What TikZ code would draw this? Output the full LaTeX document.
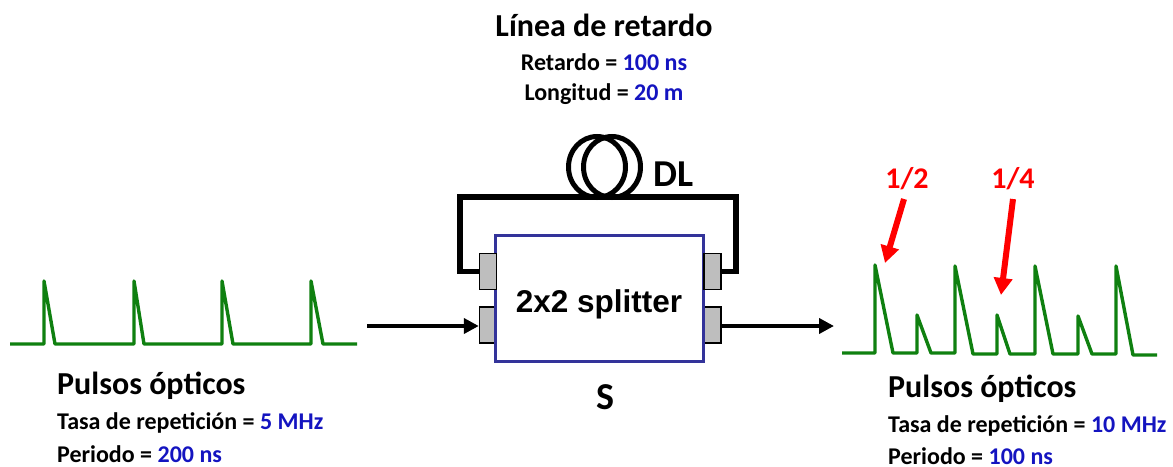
\documentclass[tikz,border=0pt]{standalone}
\usepackage{fontspec}
\setmainfont{Carlito}
\newfontfamily\arialf{Liberation Sans}
\usetikzlibrary{arrows.meta}
\definecolor{pulsegreen}{HTML}{0F8010}
\definecolor{valblue}{HTML}{1414C0}
\definecolor{boxblue}{HTML}{33339A}
\definecolor{portgrey}{HTML}{BEBEBE}
\newcommand{\val}[1]{\textcolor{valblue}{#1}}
\tikzset{
  x=1pt,y=-1pt,
  lbl/.style={inner sep=0pt,font=\bfseries\fontsize{24}{28}\selectfont},
  ttl/.style={inner sep=0pt,font=\bfseries\fontsize{32}{36}\selectfont},
  big/.style={inner sep=0pt,font=\bfseries\fontsize{38}{42}\selectfont},
  pulse/.style={draw=pulsegreen,line width=3.4pt,line join=round},
  port/.style={draw=black,fill=portgrey,line width=1.4pt,minimum width=17pt,inner sep=0pt,minimum height=36pt},
  fiber/.style={draw=black,line width=5.5pt,line join=miter},
  coil/.style={draw=black,line width=5pt},
  flow/.style={draw=black,line width=4pt,-{Triangle[length=15pt,width=15pt]}},
  redarrow/.style={draw=red,line width=6pt,-{Triangle[length=17pt,width=18pt]}},
  redlbl/.style={inner sep=0pt,text=red,font=\bfseries\fontsize{30}{34}\selectfont}
}
\begin{document}
\begin{tikzpicture}
\useasboundingbox (0,0) rectangle (1173,466);
% loop
\coordinate (lt) at (460,197);
\coordinate (rt) at (736,197);
\node[port] (pul) at (488,271.5) {};
\node[port] (pll) at (488,325) {};
\node[port] (pur) at (712.5,271.5) {};
\node[port,minimum width=18pt] (plr) at (712,325) {};
\draw[fiber] (pul.west) -- (460,271.5) -- (lt) -- (rt) -- (736,271.5) -- (pur.east);
\draw[coil] (597,167) ellipse [x radius=28.5,y radius=30.5];
\draw[coil] (612,167) ellipse [x radius=28.5,y radius=30.5];
% splitter
\node[draw=boxblue,fill=white,line width=3pt,minimum width=208pt,minimum height=126pt,inner sep=0pt] (split) at (599.5,298.5) {};
\node[inner sep=0pt,font=\arialf\bfseries\fontsize{31.5}{36}\selectfont] (splitlabel) at (599,304) {2x2 splitter};
\node[port] at (pur) {};
\node[port] at (pul) {};
% flow
\coordinate (in) at (367,326);
\coordinate (out) at (834,326);
\draw[flow] (in) -- (pll.west |- in);
\draw[flow] (plr.east |- out) -- (out);
% pulses
\draw[pulse] (10,344) -- (44,344) -- (44,281) -- (55,344) -- (134,344) -- (134,281) -- (144,344)
  -- (222,344) -- (222,281) -- (233,344) -- (311,344) -- (311,281) -- (323,344) -- (357,344);
\draw[pulse] (842,353) -- (875,353) -- (875,265) -- (893,353) -- (917,353) -- (917,315) -- (931,353)
  -- (955,353) -- (955,266) -- (973,354) -- (997,354) -- (997,315) -- (1010,354) -- (1035,354)
  -- (1035,266) -- (1053,354) -- (1078,354) -- (1078,316) -- (1092,354) -- (1116,354) -- (1116,266)
  -- (1133,355) -- (1157,355);
% labels
\node[ttl] (t1) at (604,25.5) {Línea de retardo};
\node[lbl] (t2) at (604,62) {Retardo = \val{100 ns}};
\node[lbl] (t3) at (604,94) {Longitud = \val{20 m}};
\node[big] (dl) at (674,174) {DL};
\node[big] (s) at (605,397) {S};
\node[ttl,anchor=west] (l1) at (57,386) {Pulsos ópticos};
\node[lbl,anchor=west] (l2) at (57,423) {Tasa de repetición = \val{5 MHz}};
\node[lbl,anchor=west] (l3) at (57,454) {Periodo = \val{200 ns}};
\node[ttl,anchor=west] (r1) at (888,389) {Pulsos ópticos};
\node[lbl,anchor=west] (r2) at (888,426) {Tasa de repetición = \val{10 MHz}};
\node[lbl,anchor=west] (r3) at (888,456) {Periodo = \val{100 ns}};
\node[redlbl] (h) at (907,179) {1/2};
\node[redlbl] (q) at (1013,179) {1/4};
\coordinate (ha) at (904,199);
\coordinate (hb) at (885,263);
\coordinate (qa) at (1013,199);
\coordinate (qb) at (1001,295);
\draw[redarrow] (ha) -- (hb);
\draw[redarrow] (qa) -- (qb);
\end{tikzpicture}
\end{document}
